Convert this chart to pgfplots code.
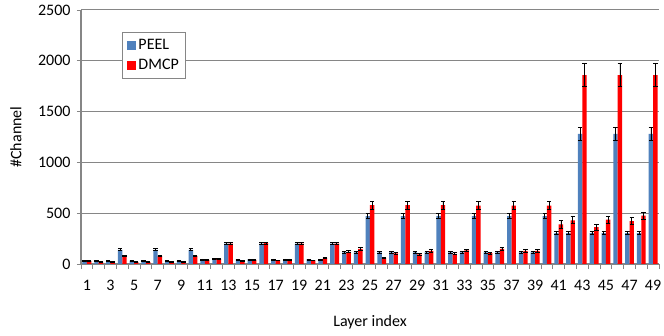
\documentclass[border=0pt]{standalone}
\usepackage{fontspec}
\setmainfont{Carlito}
\usepackage{pgfplots}
\pgfplotsset{compat=1.18}
\usepackage{pgfplotstable}
\definecolor{peel}{RGB}{79,129,189}
\definecolor{dmcp}{RGB}{255,0,0}
\definecolor{gridc}{RGB}{134,134,134}
\pgfplotstableread{
idx peel peelerr dmcp dmcperr
1 30 4 30 4
2 30 4 18 3
3 30 4 18 3
4 140 10 80 8
5 30 4 18 3
6 30 4 18 3
7 140 10 80 8
8 30 4 18 3
9 30 4 18 3
10 140 10 80 8
11 45 5 40 4
12 50 5 50 5
13 200 12 200 12
14 45 5 30 4
15 45 5 40 4
16 200 12 205 12
17 45 5 35 4
18 45 5 45 5
19 200 12 200 12
20 45 5 35 4
21 45 5 60 5
22 200 12 200 12
23 115 8 120 10
24 115 8 150 12
25 470 25 580 40
26 115 8 60 6
27 115 8 105 10
28 470 25 580 40
29 115 8 95 10
30 115 8 130 12
31 470 25 580 40
32 115 8 100 10
33 115 8 135 12
34 470 25 575 40
35 115 8 108 10
36 115 8 148 12
37 470 25 575 40
38 115 8 130 12
39 115 8 130 12
40 470 25 575 40
41 305 15 390 35
42 305 15 430 35
43 1280 60 1860 110
44 305 15 362 30
45 305 15 437 35
46 1280 60 1860 110
47 305 15 421 35
48 305 15 477 35
49 1280 60 1860 110
}\data
\begin{document}
\begin{tikzpicture}[font=\fontsize{16}{19}\selectfont]
\path[use as bounding box] (-81pt,-72pt) rectangle (583pt,264pt);
\begin{axis}[
  at={(0pt,0pt)}, anchor=south west,
  scale only axis, width=578pt, height=254pt,
  ymin=0, ymax=2500, ytick={0,500,...,2500},
  xmin=0.5, xmax=49.5,
  ybar=0pt, bar width=4.4pt,
  xtick={1,3,...,49},
  minor xtick={0.5,1.5,...,49.5},
  major x tick style={draw=none},
  minor x tick style={gridc, line width=0.8pt},
  y tick style={gridc, line width=0.8pt},
  tick align=outside,
  minor tick length=5pt,
  major tick length=4pt,
  axis x line*=bottom, axis y line*=left,
  axis line style={gridc, line width=1.2pt, -},
  ymajorgrids, grid style={gridc, line width=1pt},
  /pgf/number format/assume math mode=true,
  /pgf/number format/1000 sep={},
  yticklabel style={xshift=-3pt},
  xticklabel style={yshift=-9pt},
  xlabel={Layer index}, ylabel={\#Channel},
  xlabel style={at={(axis description cs:0.5,-0.228)}, anchor=center},
  ylabel style={at={(axis description cs:-0.1125,0.5)}, anchor=center, rotate=0},
  legend style={at={(0.071,0.913)}, anchor=north west, draw=gridc, line width=0.9pt,
    row sep=4pt, inner sep=5pt, font=\fontsize{16}{19}\selectfont},
  legend cell align=left,
  error bars/y dir=both, error bars/y explicit,
  error bars/error bar style={black, line width=0.8pt},
  error bars/error mark options={rotate=90, mark size=2.2pt, black, line width=0.8pt},
]
\addplot[fill=peel, draw=none, legend image code/.code={\fill[peel] (0pt,-4.5pt) rectangle (9pt,4.5pt);}]
  table[x=idx, y=peel, y error=peelerr] {\data};
\addplot[fill=dmcp, draw=none, legend image code/.code={\fill[dmcp] (0pt,-4.5pt) rectangle (9pt,4.5pt);}]
  table[x=idx, y=dmcp, y error=dmcperr] {\data};
\legend{PEEL, DMCP}
\end{axis}
\end{tikzpicture}
\end{document}
